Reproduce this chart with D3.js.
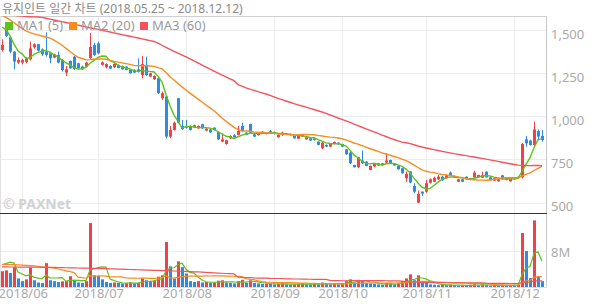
<!DOCTYPE html>
<html><head><meta charset="utf-8">
<script src="https://cdn.jsdelivr.net/npm/d3@7"></script>
<style>
body{margin:0;background:#fff}
svg{display:block}
text{font-family:"Noto Sans","Noto Sans CJK KR",sans-serif}
</style></head>
<body><svg id="c" width="594" height="304"></svg>
<script>
// ---- data ----
const title = "유지인트 일간 차트 (2018.05.25 ~ 2018.12.12)";
const open = [1387,1505,1460,1377,1313,1313,1317,1332,1402,1420,
 1390,1377,1367,1342,1358,1328,1255,1323,1348,1309,
 1290,1290,1340,1416,1425,1300,1286,1294,1286,1300,
 1294,1290,1274,1271,1274,1241,1300,1232,1216,1222,
 1106,1116,883,922,1106,945,945,945,937,931,
 955,918,925,935,910,854,840,873,891,893,
 945,906,956,896,891,902,898,914,910,879,
 894,902,898,887,871,883,867,873,873,854,
 815,835,825,840,848,840,809,790,718,705,
 744,738,689,709,715,728,732,747,728,713,
 699,641,680,596,499,563,563,615,621,635,
 650,641,674,654,621,635,650,631,646,646,
 644,679,646,627,623,658,631,623,644,641,
 646,867,860,834,916,887];
const high = [1449,1520,1466,1380,1342,1336,1344,1435,1425,1422,
 1396,1489,1377,1365,1377,1332,1293,1325,1350,1312,
 1295,1318,1485,1429,1435,1320,1309,1298,1309,1303,
 1296,1292,1276,1274,1338,1352,1348,1255,1240,1225,
 1145,1118,945,970,1108,980,980,948,952,948,
 958,933,928,937,912,902,865,891,897,945,
 964,908,958,898,910,914,910,922,912,896,
 912,904,900,889,889,893,881,875,876,856,
 854,838,846,854,850,842,811,796,720,765,
 802,740,715,726,730,730,786,749,730,715,
 701,680,682,612,569,565,631,640,650,660,
 655,662,680,656,637,637,652,643,685,662,
 679,681,648,643,637,660,643,641,646,652,
 846,887,865,970,925,921];
const low = [1377,1462,1367,1274,1305,1303,1309,1325,1394,1377,
 1352,1348,1309,1338,1309,1261,1235,1278,1270,1278,
 1270,1284,1335,1352,1362,1296,1280,1276,1282,1280,
 1272,1268,1249,1253,1255,1222,1236,1228,1212,1130,
 1096,873,873,918,960,922,930,918,933,928,
 928,914,904,918,863,850,836,869,873,889,
 912,892,904,881,889,900,896,900,896,877,
 887,891,889,871,869,881,865,858,860,833,
 809,822,822,838,836,823,778,724,703,699,
 724,711,687,707,713,714,730,726,713,691,
 668,621,612,554,496,538,557,610,618,630,
 625,638,656,642,619,619,633,629,644,644,
 642,644,629,625,621,633,629,621,633,639,
 640,825,830,825,863,854];
const close = [1416,1468,1377,1319,1328,1328,1336,1396,1420,1383,
 1361,1358,1338,1361,1313,1270,1274,1280,1276,1280,
 1274,1313,1404,1358,1367,1315,1305,1278,1305,1282,
 1274,1271,1251,1255,1259,1305,1241,1251,1236,1135,
 1135,883,922,964,964,926,935,922,949,945,
 931,929,908,921,867,867,862,887,879,916,
 916,894,906,883,906,912,908,902,898,894,
 906,893,891,873,887,891,879,860,864,835,
 848,825,844,852,838,825,780,728,705,763,
 728,713,713,724,728,716,744,728,715,693,
 670,666,616,563,550,552,612,635,644,650,
 631,658,660,644,635,621,635,641,674,660,
 660,646,631,641,635,635,641,639,635,650,
 840,844,834,925,883,863];
// volume in millions of shares
const volume = [3.5,3.7,3.1,4.4,1.9,1.3,1.7,4.3,1.5,1.0,
 0.9,5.3,1.5,1.3,1.1,1.25,1.3,2.4,1.5,1.0,
 0.9,1.3,14.2,2.6,2.5,1.7,1.1,0.9,1.0,0.9,
 0.8,0.85,1.0,0.8,0.9,1.9,1.5,1.2,1.4,2.3,
 2.6,10.0,4.6,1.9,5.7,4.4,3.0,1.3,1.1,1.3,
 1.0,1.1,0.9,1.0,1.4,1.5,1.0,0.9,0.8,1.3,
 1.6,0.9,1.5,0.9,0.8,0.7,0.8,0.7,0.6,0.7,
 0.8,0.6,0.5,0.6,0.7,0.8,0.6,0.55,0.7,0.6,
 1.0,0.7,0.6,0.8,0.6,0.7,1.3,1.7,1.0,1.6,
 1.5,0.9,0.8,0.7,0.6,0.5,0.9,0.7,0.6,0.9,
 1.3,1.9,2.8,1.5,2.6,1.2,0.9,0.6,0.5,0.4,
 0.5,0.4,0.5,0.4,0.3,0.4,0.3,0.5,0.6,0.4,
 0.5,0.4,0.3,0.4,0.3,0.4,0.3,0.4,0.3,0.5,
 12.0,8.0,2.0,14.8,2.4,1.3];
// moving-average values before the window is full
const ma5Head = [1520,1505,1468,1420];
const ma20Head = [1590,1576,1561,1545,1528,1512,1497,1487,1480,1474,1468,1462,1455,1444,1430,1414,1396,1378,1360];
const ma60Head = [1600,1596,1592,1588,1585,1583,1581,1580,1579,1578,
 1576,1571,1566,1561,1556,1551,1546,1541,1536,1531,
 1526,1521,1516,1511,1506,1501,1496,1491,1486,1481,
 1476,1471,1466,1461,1456,1451,1446,1441,1436,1426,
 1414,1402,1390,1379,1368,1357,1346,1335,1323,1311,
 1299,1287,1275,1263,1252,1241,1230,1219,1208];
const vma5Head = [5.0,5.2,5.5,5.3];
const vma20Head = [5.0,5.0,5.0,4.95,4.9,4.85,4.8,4.75,4.7,4.6,4.5,4.4,4.3,4.2,4.0,3.8,3.6,3.4,3.2];
const vma60Head = [4.45,4.45,4.44,4.44,4.43,4.42,4.42,4.41,4.40,4.39,
 4.38,4.37,4.36,4.34,4.32,4.30,4.28,4.26,4.24,4.22,
 4.20,4.18,4.16,4.14,4.12,4.10,4.07,4.04,4.01,3.98,
 3.95,3.92,3.89,3.86,3.83,3.80,3.77,3.74,3.71,3.68,
 3.65,3.62,3.59,3.56,3.53,3.50,3.46,3.42,3.38,3.34,
 3.30,3.25,3.20,3.15,3.10,3.05,3.00,2.95,2.90];
const monthIdx = [5,24,46,68,85,106,128];
const monthLabels = ["2018/06","2018/07","2018/08","2018/09","2018/10","2018/11","2018/12"];
const priceTicks = [500,750,1000,1250,1500];
const volTicks = [8];
const legendNames = ["MA1 (5)","MA2 (20)","MA3 (60)"];

// ---- drawing ----
const C = {up:"#f2404b", down:"#2d8ae6", ma:["#5ec21c","#f98b1d","#f2545e"], grid:"#ececec", txt:"#999"};
const n = close.length;
const svg = d3.select("#c");
const L = 0, R = 546, PT = 16, PB = 213, VB = 287;
const x = d3.scaleBand().domain(d3.range(n)).range([0, 544]);
const cx = i => x(i) + x.bandwidth()/2;
const y = d3.scaleLinear().domain([439, 1584]).range([PB, PT]);
const yv = d3.scaleLinear().domain([0, 16.44]).range([VB, PB]);

function mavg(src, w, head){
  return src.map((_, i) => i < w-1 ? head[i] : d3.mean(src.slice(i-w+1, i+1)));
}
const ma = [mavg(close,5,ma5Head), mavg(close,20,ma20Head), mavg(close,60,ma60Head)];
const vma = [mavg(volume,5,vma5Head), mavg(volume,20,vma20Head), mavg(volume,60,vma60Head)];

const defs = svg.append("defs");
defs.append("clipPath").attr("id","cp").append("rect").attr("x",L).attr("y",PT).attr("width",R-L).attr("height",PB-PT);
defs.append("clipPath").attr("id","cv").append("rect").attr("x",L).attr("y",PB).attr("width",R-L).attr("height",VB-PB+1);

// grid
const g = svg.append("g");
g.selectAll(".hg").data(priceTicks).join("line")
  .attr("x1",L).attr("x2",R).attr("y1",d=>Math.round(y(d))+0.5).attr("y2",d=>Math.round(y(d))+0.5)
  .attr("stroke",C.grid);
g.selectAll(".vg").data(volTicks).join("line")
  .attr("x1",L).attr("x2",R).attr("y1",d=>Math.round(yv(d))+0.5).attr("y2",d=>Math.round(yv(d))+0.5)
  .attr("stroke",C.grid);
g.selectAll(".mg").data(monthIdx).join("line")
  .attr("x1",d=>Math.round(cx(d))+0.5).attr("x2",d=>Math.round(cx(d))+0.5).attr("y1",PT).attr("y2",VB)
  .attr("stroke",C.grid);

// frame
svg.append("line").attr("x1",0).attr("x2",R).attr("y1",PT+0.5).attr("y2",PT+0.5).attr("stroke","#d0d0d0");
svg.append("line").attr("x1",0.5).attr("x2",0.5).attr("y1",PT).attr("y2",VB).attr("stroke","#e0e0e0");
svg.append("line").attr("x1",R+0.5).attr("x2",R+0.5).attr("y1",PT).attr("y2",VB+1).attr("stroke","#c8c8c8");
svg.append("line").attr("x1",0).attr("x2",R+1).attr("y1",VB+0.5).attr("y2",VB+0.5).attr("stroke","#e0e0e0");

// watermark
svg.append("text").attr("x",3).attr("y",209).attr("fill","#d2d2d2").attr("font-size",14).attr("font-weight","bold").text("© PAXNet");

// candles
const pc = svg.append("g").attr("clip-path","url(#cp)");
const idx = d3.range(n);
const col = i => close[i] >= open[i] ? C.up : C.down;
pc.selectAll(".wick").data(idx).join("line")
  .attr("x1",i=>Math.round(cx(i))+0.5).attr("x2",i=>Math.round(cx(i))+0.5)
  .attr("y1",i=>y(high[i])).attr("y2",i=>y(low[i])).attr("stroke",col);
pc.selectAll(".body").data(idx).join("rect")
  .attr("x",i=>Math.round(cx(i))-1).attr("width",3)
  .attr("y",i=>y(Math.max(open[i],close[i])))
  .attr("height",i=>Math.max(1, Math.abs(y(open[i])-y(close[i]))))
  .attr("fill",col);
const line = d3.line().x((d,i)=>cx(i)).y(d=>y(d));
ma.forEach((m,k)=>{
  pc.append("path").attr("d",line(m)).attr("fill","none").attr("stroke",C.ma[k]).attr("stroke-width",1.4);
});

// volume
const vc = svg.append("g").attr("clip-path","url(#cv)");
const vcol = i => (i===0 || volume[i] >= volume[i-1]) ? C.up : C.down;
vc.selectAll(".vb").data(idx).join("rect")
  .attr("x",i=>Math.round(cx(i))-1).attr("width",3)
  .attr("y",i=>yv(volume[i])).attr("height",i=>VB-yv(volume[i]))
  .attr("fill",vcol);
const vline = d3.line().x((d,i)=>cx(i)).y(d=>yv(d));
vma.forEach((m,k)=>{
  vc.append("path").attr("d",vline(m)).attr("fill","none").attr("stroke",C.ma[k]).attr("stroke-width",1.2);
});

// separator
svg.append("line").attr("x1",0).attr("x2",R+1).attr("y1",PB+0.5).attr("y2",PB+0.5).attr("stroke","#333").attr("stroke-width",1.2);

// axes
const ay = svg.append("g").attr("transform",`translate(${R},0)`)
  .call(d3.axisRight(y).tickValues(priceTicks).tickFormat(d3.format(",")).tickSize(0).tickPadding(5));
ay.select(".domain").remove();
ay.selectAll("text").attr("fill","#aaa").attr("font-size",13).attr("dy","0.62em");
const av = svg.append("g").attr("transform",`translate(${R},0)`)
  .call(d3.axisRight(yv).tickValues(volTicks).tickFormat(d=>d+"M").tickSize(0).tickPadding(5));
av.select(".domain").remove();
av.selectAll("text").attr("fill","#aaa").attr("font-size",13).attr("dy","0.45em");
const ax = svg.append("g").attr("transform",`translate(0,${VB})`)
  .call(d3.axisBottom(x).tickValues(monthIdx).tickFormat((d,i)=>monthLabels[i]).tickSize(0).tickPadding(2));
ax.select(".domain").remove();
ax.selectAll("text").attr("fill","#aaa").attr("font-size",13).attr("dx","0.1em");

// title
svg.append("text").attr("x",2).attr("y",13).attr("fill","#8a8a8a").attr("font-size",12).text(title);

// legend
const lx = [5,69,140];
legendNames.forEach((t,k)=>{
  svg.append("rect").attr("x",lx[k]).attr("y",22).attr("width",8).attr("height",8).attr("fill",C.ma[k]);
  svg.append("text").attr("x",lx[k]+12).attr("y",30).attr("fill","#999").attr("font-size",13).text(t);
});
</script></body></html>
